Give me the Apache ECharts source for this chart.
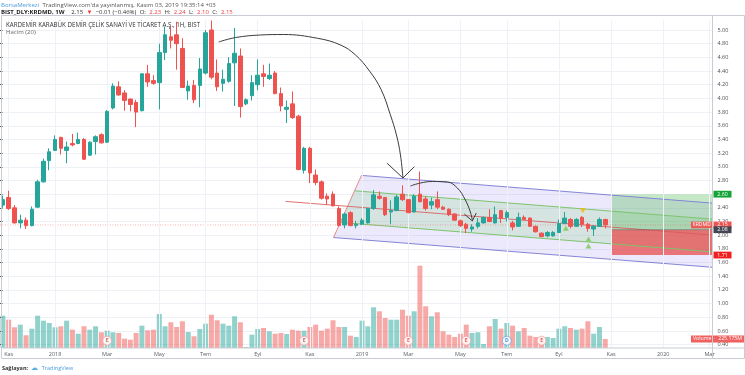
<!DOCTYPE html>
<html><head><meta charset="utf-8">
<script src="https://cdn.jsdelivr.net/npm/echarts/dist/echarts.min.js"></script>
<style>html,body{margin:0;padding:0;background:#fff}#c{width:745px;height:375px}</style>
</head><body><div id="c"></div>
<script>
// ---------- data ----------
const firstWeek = '2017-10-30';   // weekly bars (Monday dates)
const weekSlots = 123;            // bars + empty future space on the axis
const openP  = [2.44,2.55,2.40,2.18,2.22,2.14,2.41,2.78,3.09,3.24,3.43,3.24,3.34,3.34,3.40,3.17,3.37,3.47,3.36,3.86,4.17,4.08,3.99,3.94,3.82,4.36,4.26,4.23,4.67,4.90,4.93,4.73,4.11,4.19,4.19,4.37,5.00,4.37,4.22,4.25,4.52,4.62,3.92,4.04,4.20,4.36,4.29,4.37,4.07,3.84,3.92,3.74,2.95,3.27,2.88,2.78,2.57,2.60,2.39,2.15,2.33,2.14,2.16,2.18,2.39,2.57,2.55,2.34,2.36,2.60,2.52,2.34,2.60,2.53,2.44,2.52,2.41,2.38,2.31,2.21,2.16,2.09,2.13,2.18,2.26,2.18,2.36,2.26,2.18,2.13,2.26,2.25,2.13,2.03,1.99,1.99,2.04,2.17,2.23,2.13,2.26,2.16,2.09,2.13,2.23];
const highP  = [2.58,2.65,2.44,2.30,2.26,2.42,2.81,3.12,3.27,3.46,3.44,3.37,3.48,3.50,3.42,3.37,3.46,3.49,3.83,4.22,4.25,4.12,4.00,3.98,4.36,4.49,4.34,4.80,5.05,5.05,5.12,4.88,4.26,4.27,4.59,5.00,5.14,4.57,4.42,4.60,5.03,4.73,4.00,4.34,4.57,4.49,4.51,4.40,4.16,3.97,4.10,3.76,3.29,3.29,2.96,2.80,2.61,2.64,2.42,2.33,2.35,2.21,2.25,2.40,2.66,2.64,2.56,2.51,2.59,2.73,2.53,2.60,2.93,2.57,2.55,2.64,2.43,2.39,2.32,2.23,2.18,2.16,2.25,2.27,2.38,2.42,2.37,2.36,2.21,2.33,2.29,2.26,2.14,2.04,2.06,2.06,2.23,2.34,2.25,2.25,2.28,2.18,2.15,2.26,2.24];
const lowP   = [2.40,2.37,2.17,2.10,2.09,2.13,2.40,2.77,2.95,3.23,3.18,3.05,3.30,3.33,3.10,3.16,3.18,3.34,3.35,3.84,4.04,3.82,3.81,3.58,3.81,4.17,4.20,3.84,4.56,4.73,4.42,4.15,3.98,3.93,3.87,4.35,4.28,4.11,4.10,4.23,3.89,3.72,3.90,3.97,4.12,4.17,4.27,4.06,3.81,3.64,3.70,2.95,2.90,2.76,2.73,2.52,2.44,2.42,2.13,2.10,2.13,2.10,2.15,2.17,2.37,2.52,2.28,2.16,2.35,2.50,2.32,2.33,2.48,2.36,2.38,2.38,2.37,2.28,2.21,2.12,2.03,2.05,2.10,2.17,2.19,2.17,2.18,2.20,2.07,2.12,2.22,2.12,2.04,1.97,1.97,1.98,2.03,2.16,2.10,2.12,2.12,2.05,1.99,2.12,2.10];
const closeP = [2.52,2.39,2.18,2.22,2.14,2.38,2.78,3.08,3.22,3.40,3.27,3.29,3.32,3.40,3.11,3.36,3.44,3.35,3.81,4.18,4.05,3.97,3.91,3.80,4.36,4.24,4.22,4.67,4.93,4.85,4.80,4.16,4.18,3.98,4.43,4.96,4.31,4.17,4.28,4.51,4.66,3.88,3.98,4.23,4.34,4.32,4.34,4.07,3.89,3.87,3.72,2.96,3.27,2.91,2.77,2.54,2.53,2.43,2.14,2.31,2.14,2.16,2.22,2.39,2.59,2.54,2.30,2.36,2.56,2.52,2.33,2.57,2.49,2.39,2.49,2.41,2.38,2.30,2.22,2.14,2.10,2.12,2.18,2.26,2.20,2.30,2.25,2.33,2.12,2.26,2.23,2.13,2.05,1.98,2.04,2.04,2.17,2.25,2.13,2.23,2.16,2.10,2.13,2.23,2.15];
const volumeM = [808,708,518,583,318,483,808,683,625,518,543,683,458,358,543,458,543,393,433,393,375,233,208,375,558,443,458,850,543,643,525,668,400,293,475,608,833,693,608,558,793,643,25,333,475,500,418,358,375,350,458,433,433,525,583,433,483,693,525,525,308,275,683,543,1018,918,750,708,708,958,808,918,2058,1043,793,893,418,333,275,358,583,375,393,100,543,725,483,625,558,418,500,308,275,275,275,250,483,543,500,458,483,668,358,525,225.175];
const timeTicks = [['2017-11-06','Kas'],['2018-01-01','2018'],['2018-03-05','Mar'],['2018-05-07','May'],['2018-07-02','Tem'],['2018-09-03','Eyl'],['2018-11-05','Kas'],['2019-01-07','2019'],['2019-03-04','Mar'],['2019-05-06','May'],['2019-07-01','Tem'],['2019-09-02','Eyl'],['2019-11-04','Kas'],['2020-01-06','2020'],['2020-03-02','Mar']];
const earningsWeeks = ['2018-03-05','2018-10-29','2019-03-04','2019-05-13','2019-08-12'];
const dividendWeeks = ['2019-07-01'];
// drawings: [week position, price]
const channelUpper = [[61.91,2.874],[122.5,2.469]];
const channelLower = [[57.09,1.966],[122.5,1.531]];
const innerUpper   = [[60.71,2.649],[122.5,2.235]];
const innerLower   = [[58.26,2.187],[122.5,1.757]];
const midLine      = [[48.81,2.494],[122.5,2.0015]];
const arcOne = [[37.26,4.825],[40.19,4.890],[44.5,4.927],[48.47,4.934],[54.33,4.879],[58.29,4.781],[60.88,4.635],[63.3,4.40],[65.3,4.13],[66.9,3.76],[67.95,3.465],[68.64,3.173],[69.07,2.836]];
const arrowOne = [[66.35,3.051],[69.07,2.836],[71.05,3.002]];
const arcTwo = [[70.36,2.719],[72.09,2.763],[74.16,2.785],[76.74,2.778],[78.47,2.690],[79.84,2.515],[80.71,2.339],[81.05,2.222]];
const arrowTwo = [[79.67,2.31],[81.05,2.208],[81.74,2.325]];
const positionStart = 105.14, positionEnd = 122.5;
const targetPrice = 2.60, entryPrice = 2.08, stopPrice = 1.71, lastPrice = 2.15;
const signalDown = [[100.12,2.358]];
const signalUp = [[97.2,2.101],[101.1,1.944],[101.1,1.842]];

// ---------- build ----------
const DAY = 864e5;
const t0 = Date.parse(firstWeek + 'T00:00:00Z');
const weeks = [];
for (let k = 0; k < weekSlots; k++) weeks.push(new Date(t0 + k * 7 * DAY).toISOString().slice(0, 10));
const tickMap = new Map(timeTicks);
const UP = '#26a69a', DOWN = '#ef5350';
const pxPerUnit = 68.4;
const yMax = 5 + 10 / pxPerUnit, yMin = 5 - 318 / pxPerUnit;

const candleData = openP.map((o, i) => [o, closeP[i], lowP[i], highP[i]]);
const volData = volumeM.map((v, i) => ({value: v, itemStyle: {color: closeP[i] >= openP[i] ? 'rgba(38,166,154,0.5)' : 'rgba(239,83,80,0.5)'}}));

function poly(pts, fill, z) {
  return {type: 'custom', xAxisIndex: 1, yAxisIndex: 0, silent: true, z, data: [[0, 2]],
    renderItem: (p, api) => ({type: 'polygon', shape: {points: pts.map(q => api.coord(q))}, style: {fill: fill}})};
}
function line(pts, color, z, extra) {
  return Object.assign({type: 'line', xAxisIndex: 1, yAxisIndex: 0, data: pts, symbol: 'none', silent: true, z,
    lineStyle: {color, width: 1}, animation: false}, extra || {});
}
const rect = (x0, x1, y0, y1) => [[x0, y0], [x1, y0], [x1, y1], [x0, y1]];

const chart = echarts.init(document.getElementById('c'), null, {renderer: 'canvas'});
const FONT = '"Open Sans", "Noto Sans", sans-serif';
chart.setOption({
  animation: false,
  backgroundColor: '#ffffff',
  grid: [
    {left: -1, width: 713.4, top: 20, height: 328},
    {left: -1, width: 713.4, top: 30, height: 4.6 * pxPerUnit}
  ],
  xAxis: [
    {type: 'category', gridIndex: 0, data: weeks, boundaryGap: true,
      axisLine: {show: false}, axisTick: {show: false}, splitLine: {show: false},
      axisLabel: {interval: (i, v) => tickMap.has(v), formatter: v => tickMap.get(v) || '',
        fontSize: 5.5, color: '#5d606b', margin: 3.5, fontFamily: FONT}},
    {type: 'value', gridIndex: 0, min: -0.5, max: weekSlots - 0.5, show: false},
    {type: 'value', gridIndex: 1, min: 0, max: 1, show: false}
  ],
  yAxis: [
    {type: 'value', gridIndex: 0, min: yMin, max: yMax, show: false},
    {type: 'value', gridIndex: 0, min: 0, max: 328 * 25, show: false},
    {type: 'value', gridIndex: 1, min: 0.4, max: 5.0, interval: 0.2, position: 'right',
      axisLine: {show: false}, axisTick: {show: true, length: 2.5, lineStyle: {color: '#555'}},
      splitLine: {show: true, lineStyle: {color: '#eef1f6', width: 1}},
      axisLabel: {formatter: v => v.toFixed(2), fontSize: 5.5, color: '#4a4a4a', margin: 5, fontFamily: FONT}}
  ],
  series: [
    // vertical time grid lines
    {type: 'line', xAxisIndex: 1, yAxisIndex: 0, data: [], silent: true,
      markLine: {silent: true, symbol: 'none', label: {show: false}, animation: false,
        lineStyle: {color: '#eef1f6', width: 1, type: 'solid'},
        data: timeTicks.map(t => ({xAxis: weeks.indexOf(t[0])}))}},
    poly([channelUpper[0], channelUpper[1], channelLower[1], channelLower[0]], 'rgba(110,100,225,0.14)', 1),
    poly([innerUpper[0], innerUpper[1], innerLower[1], innerLower[0]], 'rgba(120,205,110,0.18)', 1),
    poly(rect(positionStart, positionEnd, entryPrice, targetPrice), 'rgba(76,185,80,0.32)', 2),
    poly(rect(positionStart, positionEnd, stopPrice, entryPrice), 'rgba(232,70,70,0.72)', 2),
    line(channelUpper, '#8585d6', 3),
    line(channelLower, '#8585d6', 3),
    line([channelUpper[0], channelLower[0]], '#e88a8a', 3),
    line(innerUpper, '#7dc46d', 3),
    line(innerLower, '#7dc46d', 3),
    line(midLine, 'rgba(215,90,90,0.85)', 3),
    line([[-0.5, lastPrice], [weekSlots - 0.5, lastPrice]], 'rgba(239,83,80,0.45)', 3, {lineStyle: {color: 'rgba(239,83,80,0.45)', width: 1, type: [1, 1.5]}}),
    line([[positionStart, entryPrice], [positionEnd, entryPrice]], 'rgba(90,90,90,0.5)', 3),
    // volume
    {type: 'bar', xAxisIndex: 0, yAxisIndex: 1, data: volData, barWidth: 5, silent: true, z: 2},
    // candles
    {type: 'candlestick', xAxisIndex: 0, yAxisIndex: 0, data: candleData, barWidth: 4, silent: true, z: 5,
      itemStyle: {color: UP, color0: DOWN, borderColor: UP, borderColor0: DOWN, borderWidth: 1}},
    // hand drawn arrows
    line(arcOne, '#3c3c3c', 6, {smooth: 0.4}),
    line(arrowOne, '#3c3c3c', 6),
    line(arcTwo, '#3c3c3c', 6, {smooth: 0.4}),
    line(arrowTwo, '#3c3c3c', 6),
    // signals
    {type: 'scatter', xAxisIndex: 1, yAxisIndex: 0, data: signalDown, symbol: 'triangle', symbolRotate: 180, symbolSize: [6, 5], itemStyle: {color: '#f5b800'}, z: 6, silent: true},
    {type: 'scatter', xAxisIndex: 1, yAxisIndex: 0, data: signalUp, symbol: 'triangle', symbolSize: [6, 5], itemStyle: {color: '#78c850'}, z: 6, silent: true},
    // earnings / dividend markers
    {type: 'scatter', xAxisIndex: 0, yAxisIndex: 0, data: earningsWeeks.map(d => [d, 0.458]), symbol: 'circle', symbolSize: 9, z: 7, silent: true,
      itemStyle: {color: '#fff', borderColor: '#f4a0a0', borderWidth: 1},
      label: {show: true, position: 'inside', formatter: 'E', fontSize: 5, color: '#e53935', fontWeight: 'bold', fontFamily: FONT}},
    {type: 'scatter', xAxisIndex: 0, yAxisIndex: 0, data: dividendWeeks.map(d => [d, 0.458]), symbol: 'circle', symbolSize: 9, z: 7, silent: true,
      itemStyle: {color: '#fff', borderColor: '#64a8e8', borderWidth: 1},
      label: {show: true, position: 'inside', formatter: 'D', fontSize: 5, color: '#2f7fd0', fontWeight: 'bold', fontFamily: FONT}}
  ]
});

// ---------- labels / frame ----------
const yPix = v => chart.convertToPixel({yAxisIndex: 0}, v);
const vPix = v => chart.convertToPixel({yAxisIndex: 1}, v);
const g = [];
function tag(x, w, y, text, bg) {
  g.push({type: 'rect', shape: {x: x, y: y - 3.4, width: w, height: 6.8}, style: {fill: bg}, z: 20});
  g.push({type: 'text', x: x + w / 2, y: y, style: {text, fill: '#fff', fontSize: 5.2, fontFamily: FONT, align: 'center', verticalAlign: 'middle'}, z: 21});
}
tag(713.5, 18, yPix(targetPrice), targetPrice.toFixed(2), '#13a336');
tag(691, 21.5, yPix(lastPrice), 'KRDMD', 'rgba(239,83,80,0.92)');
tag(713.5, 18, yPix(lastPrice), lastPrice.toFixed(2), '#ef5350');
tag(713.5, 18, yPix(entryPrice), entryPrice.toFixed(2), '#434651');
tag(713.5, 18, yPix(stopPrice), stopPrice.toFixed(2), '#f0201e');
const vLast = volumeM[volumeM.length - 1];
g.push({type: 'rect', shape: {x: 691, y: vPix(vLast) - 3.4, width: 54, height: 6.8}, style: {fill: 'rgba(239,83,80,0.92)'}, z: 20});
g.push({type: 'text', x: 693, y: vPix(vLast), style: {text: 'Volume  ·  ' + vLast.toFixed(3) + 'M', fill: '#fff', fontSize: 5.2, fontFamily: FONT, verticalAlign: 'middle'}, z: 21});
// frame
g.push({type: 'rect', shape: {x: 1.5, y: 15.5, width: 743, height: 343}, style: {fill: 'none', stroke: '#c9ccd3', lineWidth: 1}, z: 30});
g.push({type: 'line', shape: {x1: 1.5, y1: 348, x2: 744.5, y2: 348}, style: {stroke: '#c9ccd3', lineWidth: 1}, z: 30});
g.push({type: 'line', shape: {x1: 712.5, y1: 15.5, x2: 712.5, y2: 358.5}, style: {stroke: '#c9ccd3', lineWidth: 1}, z: 30});
// header
g.push({type: 'text', x: 1, y: 5, z: 30, style: {text: '{a|BorsaMerkezi} {b|TradingView.com\'da yayınlanmış, Kasım 03, 2019 19:35:14 +03}', verticalAlign: 'middle',
  rich: {a: {fill: '#4d9be0', fontSize: 6, fontFamily: FONT}, b: {fill: '#555', fontSize: 6, fontFamily: FONT}}}});
g.push({type: 'text', x: 1, y: 11.8, z: 30, style: {text: '{k|BIST_DLY:KRDMD, 1W}  {n|2.15} {r|▼} {n|−0.01 (−0.46%)} {n|O:} {r|2.23} {n|H:} {r|2.24} {n|L:} {r|2.10} {n|C:} {r|2.15}', verticalAlign: 'middle',
  rich: {k: {fill: '#222', fontSize: 6, fontWeight: 'bold', fontFamily: FONT}, n: {fill: '#333', fontSize: 6, fontFamily: FONT}, r: {fill: '#ef3b3b', fontSize: 6, fontFamily: FONT}}}});
g.push({type: 'text', x: 6, y: 25.2, z: 30, style: {text: 'KARDEMİR KARABÜK DEMİR ÇELİK SANAYİ VE TİCARET A.Ş., 1H, BIST', fill: '#333', fontSize: 6.2, fontFamily: FONT, verticalAlign: 'middle'}});
g.push({type: 'text', x: 6, y: 32.2, z: 30, style: {text: 'Hacim (20)', fill: '#666', fontSize: 6, fontFamily: FONT, verticalAlign: 'middle'}});
g.push({type: 'text', x: 2, y: 368, z: 30, style: {text: '{k|Sağlayan:} {c|☁} {t|TradingView}', verticalAlign: 'middle',
  rich: {k: {fill: '#333', fontSize: 5.5, fontWeight: 'bold', fontFamily: FONT}, c: {fill: '#5aaee6', fontSize: 7}, t: {fill: '#4d9be0', fontSize: 5.5, fontFamily: FONT}}}});
chart.setOption({graphic: g});
</script></body></html>
